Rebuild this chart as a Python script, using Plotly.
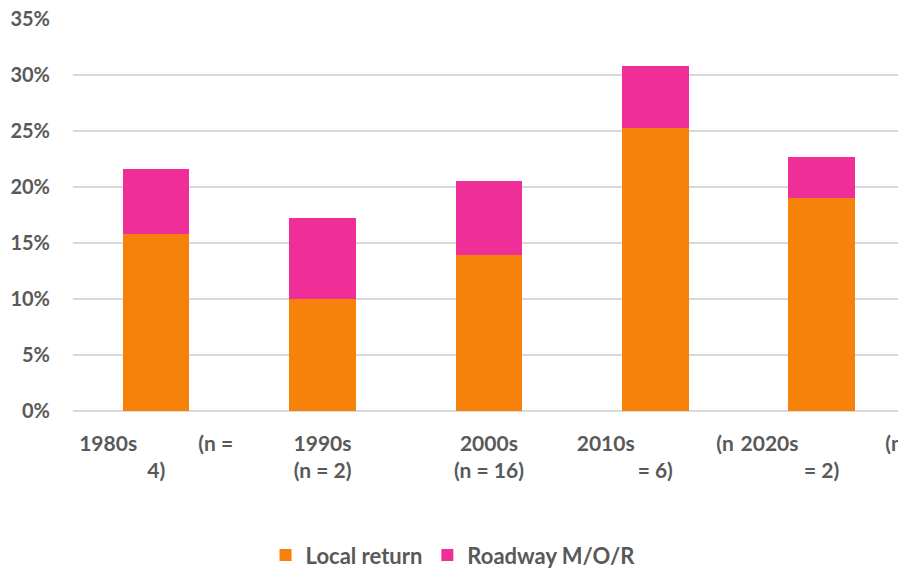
import plotly.graph_objects as go

decades = ["1980s", "1990s", "2000s", "2010s", "2020s"]
tick_labels = [
    "1980s" + "\u00a0" * 12 + "(n =<br>4)",
    "1990s<br>(n = 2)",
    "2000s<br>(n = 16)",
    "2010s" + "\u00a0" * 16 + "(n<br>= 6)",
    "2020s" + "\u00a0" * 17 + "(n<br>= 2)",
]
local_return = [0.158, 0.100, 0.139, 0.253, 0.190]
roadway_mor = [0.058, 0.072, 0.066, 0.055, 0.037]

FONT = "Lato, 'Open Sans', sans-serif"
GREY = "#595959"

fig = go.Figure()
fig.add_trace(go.Bar(x=decades, y=local_return, name="Local return",
                     marker=dict(color="#F6820B", line=dict(width=0)), width=0.4))
fig.add_trace(go.Bar(x=decades, y=roadway_mor, name="Roadway M/O/R",
                     marker=dict(color="#EF2F97", line=dict(width=0)), width=0.4))

fig.update_layout(
    barmode="stack",
    width=898, height=569,
    margin=dict(l=73, r=0, t=19, b=158, autoexpand=False),
    plot_bgcolor="white", paper_bgcolor="white",
    font=dict(family=FONT, size=21, color=GREY, weight="bold"),
    legend=dict(orientation="h", xref="container", x=0.5045, xanchor="center",
                y=-0.368, yanchor="middle",
                font=dict(family=FONT, size=22, color=GREY, weight="bold"),
                itemwidth=30, traceorder="normal"),
    bargap=0.6,
)
fig.update_xaxes(
    tickmode="array", tickvals=decades, ticktext=tick_labels,
    range=[-0.5, 4.459], showgrid=False, showline=False, ticks="",
    tickangle=0, ticklabelstandoff=18, automargin=False,
    tickfont=dict(family=FONT, size=21, color=GREY, weight="bold"),
)
fig.update_yaxes(
    range=[0, 0.35], dtick=0.05, tickformat=".0%",
    showgrid=True, gridcolor="#D9D9D9", gridwidth=1.5,
    zeroline=True, zerolinecolor="#D9D9D9", zerolinewidth=1.5,
    showline=False, ticks="", ticklabelstandoff=22, automargin=False,
    tickfont=dict(family=FONT, size=20, color=GREY, weight="bold"),
)

fig.write_html("out.html")
